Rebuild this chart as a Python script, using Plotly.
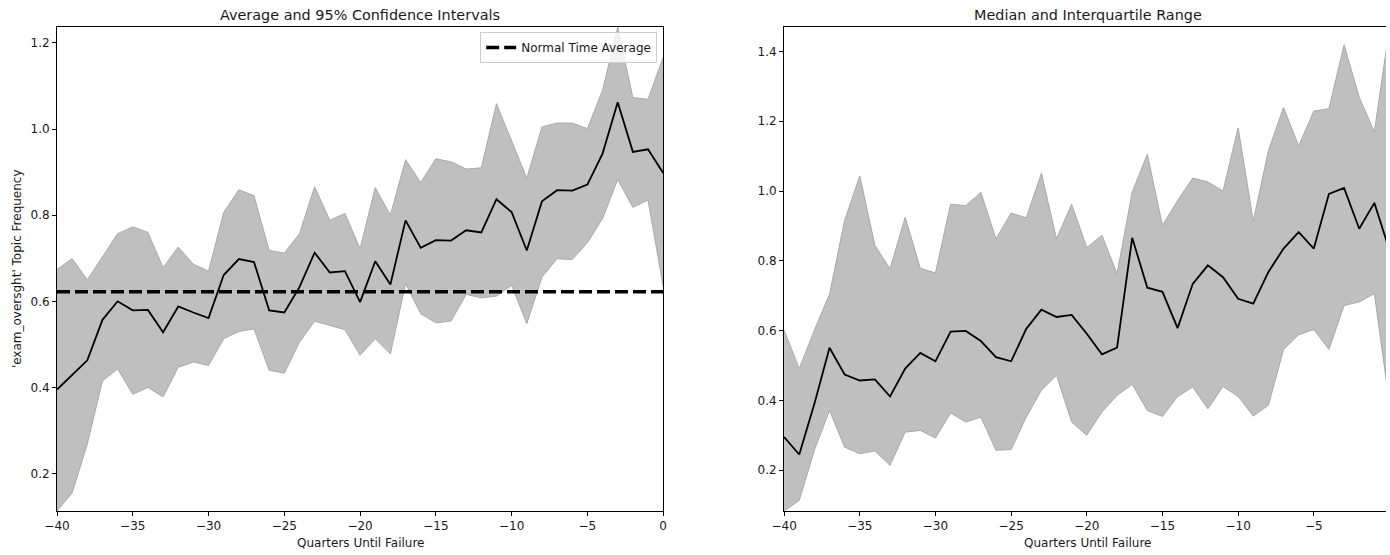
import plotly.graph_objects as go

# ---------------- data ----------------
quarters = [-40, -39, -38, -37, -36, -35, -34, -33, -32, -31, -30, -29, -28, -27,
            -26, -25, -24, -23, -22, -21, -20, -19, -18, -17, -16, -15, -14, -13,
            -12, -11, -10, -9, -8, -7, -6, -5, -4, -3, -2, -1, 0]

mean_freq = [0.395, 0.430, 0.463, 0.557, 0.600, 0.579, 0.580, 0.528, 0.588, 0.574,
             0.561, 0.661, 0.698, 0.691, 0.579, 0.574, 0.633, 0.713, 0.667, 0.670,
             0.598, 0.693, 0.639, 0.788, 0.724, 0.742, 0.741, 0.765, 0.760, 0.837,
             0.807, 0.718, 0.832, 0.858, 0.857, 0.871, 0.943, 1.062, 0.947, 0.953, 0.898]
ci_upper = [0.674, 0.699, 0.650, 0.703, 0.757, 0.773, 0.760, 0.678, 0.726, 0.686,
            0.670, 0.806, 0.859, 0.845, 0.718, 0.712, 0.757, 0.866, 0.788, 0.804,
            0.722, 0.864, 0.800, 0.929, 0.876, 0.931, 0.924, 0.907, 0.910, 1.059,
            0.974, 0.886, 1.005, 1.014, 1.014, 1.001, 1.090, 1.237, 1.073, 1.069, 1.167]
ci_lower = [0.113, 0.155, 0.269, 0.415, 0.443, 0.384, 0.400, 0.378, 0.447, 0.459,
            0.451, 0.513, 0.530, 0.536, 0.440, 0.433, 0.505, 0.554, 0.544, 0.534,
            0.475, 0.513, 0.478, 0.641, 0.571, 0.550, 0.554, 0.616, 0.608, 0.612,
            0.637, 0.548, 0.656, 0.699, 0.697, 0.736, 0.792, 0.883, 0.818, 0.835, 0.635]
normal_time_average = 0.622

median_freq = [0.295, 0.245, 0.390, 0.551, 0.474, 0.457, 0.460, 0.411, 0.491, 0.536,
               0.512, 0.597, 0.599, 0.570, 0.524, 0.512, 0.605, 0.660, 0.639, 0.645,
               0.591, 0.532, 0.551, 0.866, 0.723, 0.711, 0.607, 0.734, 0.787, 0.753,
               0.691, 0.677, 0.768, 0.835, 0.882, 0.835, 0.992, 1.009, 0.892, 0.966, 0.830]
q75 = [0.601, 0.491, 0.601, 0.704, 0.916, 1.043, 0.844, 0.777, 0.925, 0.779,
       0.765, 0.962, 0.958, 0.996, 0.863, 0.937, 0.923, 1.051, 0.863, 0.962,
       0.838, 0.873, 0.763, 0.997, 1.105, 0.901, 0.973, 1.037, 1.026, 1.000,
       1.181, 0.914, 1.116, 1.239, 1.129, 1.229, 1.236, 1.419, 1.269, 1.169, 1.470]
q25 = [0.083, 0.113, 0.257, 0.371, 0.266, 0.247, 0.255, 0.214, 0.309, 0.314,
       0.292, 0.364, 0.338, 0.352, 0.257, 0.259, 0.352, 0.429, 0.472, 0.338,
       0.300, 0.367, 0.414, 0.446, 0.371, 0.354, 0.411, 0.438, 0.376, 0.440,
       0.411, 0.355, 0.386, 0.546, 0.588, 0.603, 0.546, 0.672, 0.682, 0.706, 0.390]

left_xticks = [-40, -35, -30, -25, -20, -15, -10, -5, 0]
left_yticks = [0.2, 0.4, 0.6, 0.8, 1.0, 1.2]
right_yticks = [0.2, 0.4, 0.6, 0.8, 1.0, 1.2, 1.4]

# ---------------- style ----------------
FONT = "DejaVu Sans"
FILL = "#bfbfbf"
EDGE = "#a9a9a9"
TXT = "#1a1a1a"

fig = go.Figure()

# Left panel: CI band
fig.add_trace(go.Scatter(x=quarters, y=ci_lower, mode="lines",
                         line=dict(color=EDGE, width=1), showlegend=False,
                         xaxis="x", yaxis="y", hoverinfo="skip"))
fig.add_trace(go.Scatter(x=quarters, y=ci_upper, mode="lines", fill="tonexty",
                         fillcolor=FILL, line=dict(color=EDGE, width=1),
                         showlegend=False, xaxis="x", yaxis="y", hoverinfo="skip"))
fig.add_trace(go.Scatter(x=quarters, y=mean_freq, mode="lines",
                         line=dict(color="black", width=1.8), showlegend=False,
                         xaxis="x", yaxis="y"))
fig.add_trace(go.Scatter(x=[quarters[0], quarters[-1]],
                         y=[normal_time_average, normal_time_average], mode="lines",
                         line=dict(color="black", width=3.5, dash="13px,5px"),
                         name="Normal Time Average", showlegend=True,
                         xaxis="x", yaxis="y"))

# Right panel: IQR band
fig.add_trace(go.Scatter(x=quarters, y=q25, mode="lines",
                         line=dict(color=EDGE, width=1), showlegend=False,
                         xaxis="x2", yaxis="y2", hoverinfo="skip"))
fig.add_trace(go.Scatter(x=quarters, y=q75, mode="lines", fill="tonexty",
                         fillcolor=FILL, line=dict(color=EDGE, width=1),
                         showlegend=False, xaxis="x2", yaxis="y2", hoverinfo="skip"))
fig.add_trace(go.Scatter(x=quarters, y=median_freq, mode="lines",
                         line=dict(color="black", width=1.8), showlegend=False,
                         xaxis="x2", yaxis="y2"))

axis_common = dict(showline=True, linecolor="black", linewidth=1, ticks="outside",
                   ticklen=4, tickwidth=1, tickcolor="black", showgrid=False,
                   zeroline=False, tickfont=dict(family=FONT, size=12, color=TXT))

W, H = 1390, 555
L, R, T, B = 57, 0, 27, 44
pw = W - L - R
left_dom = [0, (665 - L) / pw]
right_dom = [(786.3 - L) / pw, 1]

fig.update_layout(
    width=W, height=H,
    margin=dict(l=L, r=R, t=T, b=B),
    plot_bgcolor="white", paper_bgcolor="white",
    font=dict(family=FONT, size=12, color=TXT),
    xaxis=dict(domain=left_dom, range=[-40, 0], tickvals=left_xticks, mirror=True,
               anchor="y", **axis_common),
    yaxis=dict(domain=[0, 1], range=[min(ci_lower), max(ci_upper)],
               tickvals=left_yticks, tickformat=".1f", mirror=True, anchor="x",
               **axis_common),
    xaxis2=dict(domain=right_dom, range=[-40, -0.23], tickvals=left_xticks,
                mirror=True, anchor="y2", **axis_common),
    yaxis2=dict(domain=[0, 1], range=[min(q25), max(q75)], tickvals=right_yticks,
                tickformat=".1f", mirror=False, anchor="x2", **axis_common),
    legend=dict(x=(659 - L) / pw, xanchor="right", y=1 - (32 - T) / (H - T - B),
                yanchor="top", bgcolor="rgba(255,255,255,0.8)", bordercolor="#cccccc",
                borderwidth=1, font=dict(family=FONT, size=12, color=TXT)),
    showlegend=True,
)

ph = H - T - B
annos = [
    dict(text="Average and 95% Confidence Intervals", x=(left_dom[0] + left_dom[1]) / 2,
         y=1 + (T - 15) / ph, size=14.4),
    dict(text="Median and Interquartile Range", x=((786.3 - L) / pw + (1395.3 - L) / pw) / 2,
         y=1 + (T - 15) / ph, size=14.4),
    dict(text="Quarters Until Failure", x=(left_dom[0] + left_dom[1]) / 2,
         y=-(543 - 511) / ph, size=12),
    dict(text="Quarters Until Failure", x=((786.3 - L) / pw + (1395.3 - L) / pw) / 2,
         y=-(543 - 511) / ph, size=12),
]
for a in annos:
    fig.add_annotation(text=a["text"], x=a["x"], y=a["y"], xref="paper", yref="paper",
                       xanchor="center", yanchor="middle", showarrow=False,
                       font=dict(family=FONT, size=a["size"], color=TXT))
fig.add_annotation(text="'exam_oversght' Topic Frequency", x=(17 - L) / pw, y=0.5,
                   xref="paper", yref="paper", xanchor="center", yanchor="middle",
                   textangle=-90, showarrow=False,
                   font=dict(family=FONT, size=12, color=TXT))

fig.write_html("out.html")
